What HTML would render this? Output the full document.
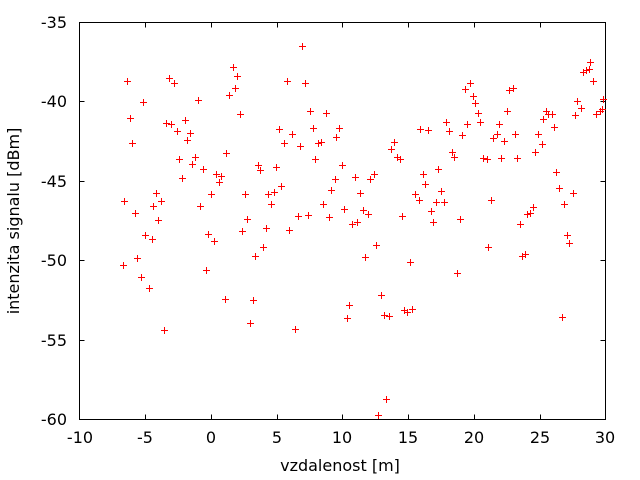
<!DOCTYPE html>
<html>
<head>
<meta charset="utf-8">
<style>
html,body{margin:0;padding:0;background:#fff;}
svg{display:block;}
text{font-family:"DejaVu Sans","Liberation Sans",sans-serif;font-size:16px;fill:#000;}
</style>
</head>
<body>
<svg width="640" height="480" viewBox="0 0 640 480" xmlns="http://www.w3.org/2000/svg">
<rect x="0" y="0" width="640" height="480" fill="#fff"/>
<g shape-rendering="crispEdges" stroke="#000" stroke-width="1" fill="none">
<rect x="79.5" y="22.5" width="526" height="397"/>
<path d="M145.5 419.5v-5M211.5 419.5v-5M277.5 419.5v-5M342.5 419.5v-5M408.5 419.5v-5M474.5 419.5v-5M540.5 419.5v-5M145.5 22.5v5M211.5 22.5v5M277.5 22.5v5M342.5 22.5v5M408.5 22.5v5M474.5 22.5v5M540.5 22.5v5M79.5 101.5h5M79.5 181.5h5M79.5 260.5h5M79.5 340.5h5M605.5 101.5h-5M605.5 181.5h-5M605.5 260.5h-5M605.5 340.5h-5"/>
</g>
<g text-anchor="end">
<text x="67" y="28">-35</text>
<text x="67" y="107">-40</text>
<text x="67" y="187">-45</text>
<text x="67" y="266">-50</text>
<text x="67" y="346">-55</text>
<text x="67" y="425">-60</text>
</g>
<g text-anchor="middle">
<text x="80" y="443">-10</text>
<text x="145" y="443">-5</text>
<text x="211" y="443">0</text>
<text x="277" y="443">5</text>
<text x="342" y="443">10</text>
<text x="408" y="443">15</text>
<text x="474" y="443">20</text>
<text x="540" y="443">25</text>
<text x="605" y="443">30</text>
<text x="340" y="471">vzdalenost [m]</text>
<text x="0" y="0" transform="translate(19,221) rotate(-90)">intenzita signalu [dBm]</text>
</g>
<path shape-rendering="crispEdges" stroke="#ff0000" stroke-width="1" fill="none" d="
M230 67.5h7m-3.5-3.5v7 M234 76.5h7m-3.5-3.5v7 M232 88.5h7m-3.5-3.5v7 M226 95.5h7m-3.5-3.5v7
M124 81.5h7m-3.5-3.5v7 M166 78.5h7m-3.5-3.5v7 M171 83.5h7m-3.5-3.5v7 M140 102.5h7m-3.5-3.5v7
M195 100.5h7m-3.5-3.5v7 M127 118.5h7m-3.5-3.5v7 M237 114.5h7m-3.5-3.5v7 M163 123.5h7m-3.5-3.5v7
M168 124.5h7m-3.5-3.5v7 M182 120.5h7m-3.5-3.5v7 M174 131.5h7m-3.5-3.5v7 M187 133.5h7m-3.5-3.5v7
M184 140.5h7m-3.5-3.5v7 M129 143.5h7m-3.5-3.5v7 M176 159.5h7m-3.5-3.5v7 M192 157.5h7m-3.5-3.5v7
M189 164.5h7m-3.5-3.5v7 M200 169.5h7m-3.5-3.5v7 M223 153.5h7m-3.5-3.5v7 M255 165.5h7m-3.5-3.5v7
M257 170.5h7m-3.5-3.5v7 M213 174.5h7m-3.5-3.5v7 M218 176.5h7m-3.5-3.5v7 M216 182.5h7m-3.5-3.5v7
M179 178.5h7m-3.5-3.5v7 M153 193.5h7m-3.5-3.5v7 M121 201.5h7m-3.5-3.5v7 M158 201.5h7m-3.5-3.5v7
M150 206.5h7m-3.5-3.5v7 M197 206.5h7m-3.5-3.5v7 M208 194.5h7m-3.5-3.5v7 M242 194.5h7m-3.5-3.5v7
M132 213.5h7m-3.5-3.5v7 M155 220.5h7m-3.5-3.5v7 M244 219.5h7m-3.5-3.5v7 M142 235.5h7m-3.5-3.5v7
M149 239.5h7m-3.5-3.5v7 M120 265.5h7m-3.5-3.5v7 M134 258.5h7m-3.5-3.5v7 M138 277.5h7m-3.5-3.5v7
M146 288.5h7m-3.5-3.5v7 M161 330.5h7m-3.5-3.5v7 M205 234.5h7m-3.5-3.5v7 M211 241.5h7m-3.5-3.5v7
M203 270.5h7m-3.5-3.5v7 M222 299.5h7m-3.5-3.5v7 M250 300.5h7m-3.5-3.5v7 M247 323.5h7m-3.5-3.5v7
M239 231.5h7m-3.5-3.5v7 M252 256.5h7m-3.5-3.5v7 M260 247.5h7m-3.5-3.5v7 M263 228.5h7m-3.5-3.5v7
M299 46.5h7m-3.5-3.5v7 M284 81.5h7m-3.5-3.5v7 M302 83.5h7m-3.5-3.5v7 M307 111.5h7m-3.5-3.5v7
M323 113.5h7m-3.5-3.5v7 M276 129.5h7m-3.5-3.5v7 M310 128.5h7m-3.5-3.5v7 M336 128.5h7m-3.5-3.5v7
M289 134.5h7m-3.5-3.5v7 M333 137.5h7m-3.5-3.5v7 M281 143.5h7m-3.5-3.5v7 M297 146.5h7m-3.5-3.5v7
M315 143.5h7m-3.5-3.5v7 M318 142.5h7m-3.5-3.5v7 M312 159.5h7m-3.5-3.5v7 M273 167.5h7m-3.5-3.5v7
M339 165.5h7m-3.5-3.5v7 M332 179.5h7m-3.5-3.5v7 M352 177.5h7m-3.5-3.5v7 M367 179.5h7m-3.5-3.5v7
M371 174.5h7m-3.5-3.5v7 M278 186.5h7m-3.5-3.5v7 M265 194.5h7m-3.5-3.5v7 M271 192.5h7m-3.5-3.5v7
M328 190.5h7m-3.5-3.5v7 M357 193.5h7m-3.5-3.5v7 M268 204.5h7m-3.5-3.5v7 M320 204.5h7m-3.5-3.5v7
M341 209.5h7m-3.5-3.5v7 M360 210.5h7m-3.5-3.5v7 M365 214.5h7m-3.5-3.5v7 M295 216.5h7m-3.5-3.5v7
M305 215.5h7m-3.5-3.5v7 M326 217.5h7m-3.5-3.5v7 M391 142.5h7m-3.5-3.5v7 M388 149.5h7m-3.5-3.5v7
M394 157.5h7m-3.5-3.5v7 M397 159.5h7m-3.5-3.5v7 M417 129.5h7m-3.5-3.5v7 M425 130.5h7m-3.5-3.5v7
M420 174.5h7m-3.5-3.5v7 M422 184.5h7m-3.5-3.5v7 M435 169.5h7m-3.5-3.5v7 M412 194.5h7m-3.5-3.5v7
M416 200.5h7m-3.5-3.5v7 M433 202.5h7m-3.5-3.5v7 M428 211.5h7m-3.5-3.5v7 M286 230.5h7m-3.5-3.5v7
M349 224.5h7m-3.5-3.5v7 M354 222.5h7m-3.5-3.5v7 M399 216.5h7m-3.5-3.5v7 M430 222.5h7m-3.5-3.5v7
M373 245.5h7m-3.5-3.5v7 M362 257.5h7m-3.5-3.5v7 M407 262.5h7m-3.5-3.5v7 M378 295.5h7m-3.5-3.5v7
M346 305.5h7m-3.5-3.5v7 M344 318.5h7m-3.5-3.5v7 M381 315.5h7m-3.5-3.5v7 M386 316.5h7m-3.5-3.5v7
M401 310.5h7m-3.5-3.5v7 M404 312.5h7m-3.5-3.5v7 M409 309.5h7m-3.5-3.5v7 M292 329.5h7m-3.5-3.5v7
M383 399.5h7m-3.5-3.5v7 M375 415.5h7m-3.5-3.5v7
M587 62.5h7m-3.5-3.5v7 M580 72.5h7m-3.5-3.5v7 M583 70.5h7m-3.5-3.5v7 M586 69.5h7m-3.5-3.5v7
M590 81.5h7m-3.5-3.5v7 M600 99.5h7m-3.5-3.5v7 M574 101.5h7m-3.5-3.5v7 M578 108.5h7m-3.5-3.5v7
M593 114.5h7m-3.5-3.5v7 M597 111.5h7m-3.5-3.5v7 M599 109.5h7m-3.5-3.5v7 M572 115.5h7m-3.5-3.5v7
M543 111.5h7m-3.5-3.5v7 M545 114.5h7m-3.5-3.5v7 M549 114.5h7m-3.5-3.5v7 M540 119.5h7m-3.5-3.5v7
M551 127.5h7m-3.5-3.5v7 M535 134.5h7m-3.5-3.5v7 M539 144.5h7m-3.5-3.5v7 M532 152.5h7m-3.5-3.5v7
M553 172.5h7m-3.5-3.5v7 M556 188.5h7m-3.5-3.5v7 M570 193.5h7m-3.5-3.5v7 M561 204.5h7m-3.5-3.5v7
M530 207.5h7m-3.5-3.5v7 M524 214.5h7m-3.5-3.5v7 M527 213.5h7m-3.5-3.5v7 M467 83.5h7m-3.5-3.5v7
M462 89.5h7m-3.5-3.5v7 M470 96.5h7m-3.5-3.5v7 M472 103.5h7m-3.5-3.5v7 M475 113.5h7m-3.5-3.5v7
M477 122.5h7m-3.5-3.5v7 M506 90.5h7m-3.5-3.5v7 M510 88.5h7m-3.5-3.5v7 M504 111.5h7m-3.5-3.5v7
M496 124.5h7m-3.5-3.5v7 M490 138.5h7m-3.5-3.5v7 M494 134.5h7m-3.5-3.5v7 M501 141.5h7m-3.5-3.5v7
M512 134.5h7m-3.5-3.5v7 M464 124.5h7m-3.5-3.5v7 M459 135.5h7m-3.5-3.5v7 M443 122.5h7m-3.5-3.5v7
M446 131.5h7m-3.5-3.5v7 M449 152.5h7m-3.5-3.5v7 M451 157.5h7m-3.5-3.5v7 M480 158.5h7m-3.5-3.5v7
M484 159.5h7m-3.5-3.5v7 M498 158.5h7m-3.5-3.5v7 M514 158.5h7m-3.5-3.5v7 M438 191.5h7m-3.5-3.5v7
M441 202.5h7m-3.5-3.5v7 M488 200.5h7m-3.5-3.5v7 M457 219.5h7m-3.5-3.5v7 M517 224.5h7m-3.5-3.5v7
M485 247.5h7m-3.5-3.5v7 M519 256.5h7m-3.5-3.5v7 M522 254.5h7m-3.5-3.5v7 M564 235.5h7m-3.5-3.5v7
M566 243.5h7m-3.5-3.5v7 M454 273.5h7m-3.5-3.5v7 M559 317.5h7m-3.5-3.5v7"/>
</svg>
</body>
</html>
